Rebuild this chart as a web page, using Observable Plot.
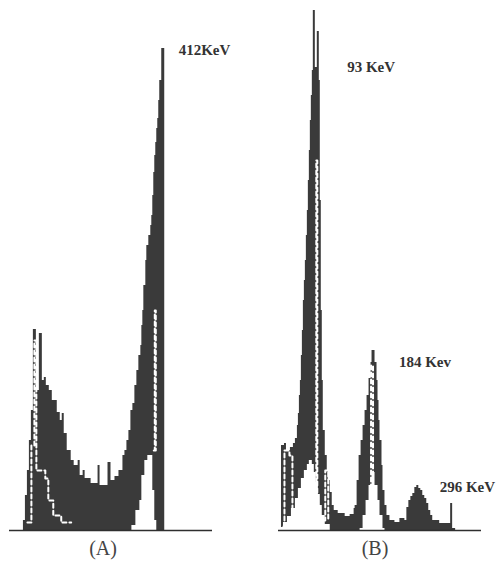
<!DOCTYPE html>
<html><head><meta charset="utf-8">
<script src="https://cdn.jsdelivr.net/npm/d3@7"></script>
<script src="https://cdn.jsdelivr.net/npm/@observablehq/plot@0.6"></script>
<style>body{margin:0;background:#fff}</style>
</head><body><div id="chart"></div>
<script>
// panels
const panels = ["A", "B"];

// outer (total) spectra: [channel, counts]
const outerA = [[12,0],[14,20],[16,70],[18,120],[20,180],[22,240],[24,402],[27,280],[30,394],[33,300],[35,306],[37,290],[40,280],[43,260],[48,236],[51,220],[53,234],[55,194],[58,160],[62,140],[65,130],[69,140],[71,110],[74,120],[76,104],[82,94],[89,130],[91,90],[99,136],[102,100],[106,108],[110,120],[114,150],[116,160],[118,180],[120,200],[122,240],[124,254],[126,290],[128,320],[130,350],[132,370],[133,410],[134,440],[135,490],[137,540],[138,570],[140,590],[142,610],[143,630],[144,670],[145,716],[146,750],[147,776],[148,804],[149,824],[150,860],[151,900],[153,964],[156,0]];
const outerB = [[0,0],[3,170],[6,174],[8,160],[12,166],[15,174],[17,184],[19,210],[20,234],[21,270],[22,300],[23,350],[24,400],[25,460],[26,500],[27,540],[28,590],[29,640],[30,700],[31,760],[32,820],[33,870],[34,920],[35,1040],[37,926],[39,998],[41,900],[42,660],[43,440],[44,300],[45,200],[47,150],[49,120],[50,100],[52,76],[54,50],[56,40],[60,34],[67,28],[72,32],[76,44],[77,50],[79,100],[81,150],[83,180],[85,210],[87,240],[89,270],[91,304],[93,336],[94,360],[97,336],[99,300],[100,260],[101,220],[102,180],[104,130],[105,80],[107,50],[109,30],[112,20],[117,16],[122,24],[127,20],[129,46],[131,60],[133,68],[135,74],[137,86],[139,90],[141,84],[143,80],[145,70],[147,64],[149,54],[151,40],[153,30],[155,20],[162,14],[173,54],[175,4],[178,0]];

// inner (lower-count) spectra shown as white regions
const innerA = [[123,10],[127,40],[131,60],[133,110],[136,140],[139,150],[142,150],[144,80],[146,20],[148,0]];
const innerB = [[1,6],[5,16],[9,28],[13,44],[17,64],[20,84],[23,104],[26,120],[29,132],[31,140],[34,132],[36,116],[38,96],[40,72],[42,50],[44,30],[47,12],[52,0],[82,4],[85,30],[88,60],[91,90],[94,116],[97,90],[100,60],[102,30],[105,4],[107,0]];

// traces of further overlaid spectra (broken white outlines)
const traceA1 = [[18,16],[22,170],[25,380],[27,120],[36,104],[39,60],[44,30],[52,16],[62,16]];
const traceA2 = [[145,160],[146,440],[147,160]];
const traceB1 = [[5,8],[6,160],[11,150],[14,30]];
const traceB2 = [[36,30],[38,740],[39,30]];
const traceB3 = [[46,20],[47,120],[50,20]];
const traceB4 = [[92,30],[93,330],[95,30]];

// peak labels
const labelText = ["412KeV", "93 KeV", "184 Kev", "296 KeV"];
const labelPanel = ["A", "B", "B", "B"];
const labelChan = [170, 69, 121, 162];
const labelCount = [960, 926, 336, 86];

// panel captions
const captionText = ["(A)", "(B)"];
const captionChan = [94, 97];

const toRows = (panel, pairs, seg) => pairs.map(([ch, count]) => ({panel, ch, count, seg}));
const outer = [...toRows("A", outerA), ...toRows("B", outerB)];
const inner = [...toRows("A", innerA), ...toRows("B", innerB)];
const traces = [
  ...toRows("A", traceA1, "a1"), ...toRows("A", traceA2, "a2"),
  ...toRows("B", traceB1, "b1"), ...toRows("B", traceB2, "b2"),
  ...toRows("B", traceB3, "b3"), ...toRows("B", traceB4, "b4")
];
const labels = labelText.map((t, i) => ({text: t, panel: labelPanel[i], ch: labelChan[i], count: labelCount[i]}));
const captions = captionText.map((t, i) => ({text: t, panel: panels[i], ch: captionChan[i], count: 0}));

const dark = "#3a3a3a";

const chart = Plot.plot({
  width: 500,
  height: 570,
  marginTop: 0,
  marginBottom: 40,
  marginLeft: 8,
  marginRight: 18,
  x: {domain: [0, 204], axis: null},
  y: {domain: [0, 1060], axis: null},
  fx: {domain: panels, paddingInner: 0.2444, paddingOuter: 0, axis: null},
  style: {background: "#fff"},
  marks: [
    Plot.areaY(outer, {x: "ch", y: "count", fx: "panel", curve: "step-after", fill: dark}),
    Plot.areaY(inner, {x: "ch", y: "count", fx: "panel", curve: "step-after", fill: "#fff"}),
    Plot.lineY(traces, {x: "ch", y: "count", fx: "panel", z: "seg", curve: "step-after",
      stroke: "#fff", strokeWidth: 2, strokeDasharray: "4,3"}),
    Plot.ruleY([0], {stroke: "#2e2e2e", strokeWidth: 1.6}),
    Plot.text(labels, {x: "ch", y: "count", fx: "panel", text: "text", textAnchor: "start",
      fontFamily: "Liberation Serif", fontWeight: "bold", fontSize: 15, fill: "#333"}),
    Plot.text(captions, {x: "ch", y: "count", fx: "panel", text: "text", dy: 18,
      fontFamily: "Liberation Serif", fontSize: 20, fill: "#444"})
  ]
});
document.getElementById("chart").append(chart);
</script>
</body></html>
